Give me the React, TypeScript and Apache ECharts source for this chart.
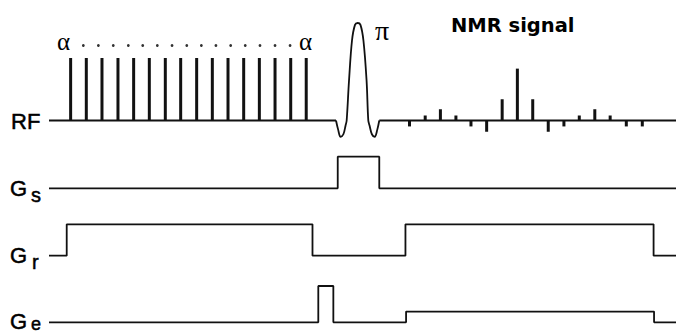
import React, { useEffect, useRef } from "react";
import * as echarts from "echarts";

// Time axis (arbitrary units, one unit ≈ one RF repetition)
const TIME_END = 40;

// Train of alpha pulses on the RF channel
const alphaTimes = [1.38, 2.38, 3.38, 4.4, 5.4, 6.4, 7.42, 8.4, 9.42, 10.42, 11.42, 12.42, 13.42, 14.42, 15.42, 16.41];
const alphaAmps = [10, 10, 10, 10, 10, 10, 10, 10, 10, 10, 10, 10, 10, 10, 10, 10];

// Dots between the two alpha labels
const dotTimes = [2.19, 3.15, 4.1, 5.06, 5.98, 6.91, 7.85, 8.79, 9.72, 10.65, 11.59, 12.52, 13.46, 14.42, 15.38];
const dotLevel = 12.0;

// Refocusing (pi) pulse shape
const piTimes = [18.31, 18.45, 18.6, 18.78, 18.92, 18.99, 19.14, 19.33, 19.52, 19.69, 19.87, 20.06, 20.26, 20.37, 20.45, 20.6, 20.78, 20.94, 21.07];
const piAmps = [0, -1.5, -2.6, -2.2, -0.8, 0, 6.4, 12.8, 15.3, 15.6, 15.3, 12.8, 6.4, 0, -0.8, -2.2, -2.6, -1.5, 0];

// NMR signal spikes
const echoTimes = [23.0, 24.0, 24.97, 25.96, 26.92, 27.92, 28.91, 29.88, 30.86, 31.85, 32.85, 33.83, 34.82, 35.8, 36.83, 37.85];
const echoAmps = [-0.95, 0.8, 1.8, 0.8, -0.95, -1.8, 3.4, 8.3, 3.4, -1.8, -0.95, 0.8, 1.8, 0.8, -0.95, -0.95];

// Gradient channels: level holds from each time onwards
const gsTimes = [0, 18.42, 21.07];
const gsLevels = [0, 1, 0];
const grTimes = [0, 1.13, 16.81, 22.74, 38.57];
const grLevels = [0, 1, 0, 1, 0];
const geTimes = [0, 17.18, 18.14, 22.78, 38.6];
const geLevels = [0, 1.15, 0, 0.34, 0];

function stepPoints(times: number[], levels: number[], end: number) {
  const pts: number[][] = [];
  for (let i = 0; i < times.length; i++) {
    if (i > 0) pts.push([times[i], levels[i - 1]]);
    pts.push([times[i], levels[i]]);
  }
  pts.push([end, levels[levels.length - 1]]);
  return pts;
}

const LINE = "#111";
const SANS = "Liberation Sans";
const SERIF = "Liberation Serif";

export default function App() {
  const ref = useRef<HTMLDivElement>(null);
  useEffect(() => {
    document.body.style.margin = "0";
    if (!ref.current) return;
    const chart = echarts.init(ref.current, undefined, { renderer: "svg" });
    const gridBase = { left: 49, right: 0 };
    const grids = [
      { ...gridBase, top: 20.5, height: 118.75 },
      { ...gridBase, top: 156.7, height: 31.6 },
      { ...gridBase, top: 224.3, height: 31.4 },
      { ...gridBase, top: 286, height: 36.3 },
    ];
    const xAxes = grids.map((_, i) => ({ type: "value", gridIndex: i, min: 0, max: TIME_END, show: false }));
    const yAxes = [
      { type: "value", gridIndex: 0, min: -3, max: 16, show: false },
      { type: "value", gridIndex: 1, min: 0, max: 1, show: false },
      { type: "value", gridIndex: 2, min: 0, max: 1, show: false },
      { type: "value", gridIndex: 3, min: 0, max: 1.15, show: false },
    ];
    const lineBase = { type: "line", symbol: "none", silent: true, clip: false, lineStyle: { color: LINE, width: 1.8 } };
    const label = (text: string, x: number, y: number, family: string, size: number, weight = "normal", stroke = 0) => ({
      type: "text",
      x,
      y,
      style: {
        text,
        fontFamily: family,
        fontSize: size,
        fontWeight: weight,
        fill: "#000",
        stroke: stroke > 0 ? "#000" : undefined,
        lineWidth: stroke,
        verticalAlign: "middle",
        align: "left",
      },
    });
    chart.setOption({
      animation: false,
      backgroundColor: "#fff",
      grid: grids,
      xAxis: xAxes,
      yAxis: yAxes,
      series: [
        {
          ...lineBase,
          xAxisIndex: 0,
          yAxisIndex: 0,
          data: [[0, 0], [piTimes[0], 0], null, [piTimes[piTimes.length - 1], 0], [TIME_END, 0]],
          connectNulls: false,
        },
        {
          ...lineBase,
          xAxisIndex: 0,
          yAxisIndex: 0,
          smooth: 0.35,
          data: piTimes.map((t, i) => [t, piAmps[i]]),
        },
        {
          type: "bar",
          xAxisIndex: 0,
          yAxisIndex: 0,
          barWidth: 3,
          silent: true,
          itemStyle: { color: LINE },
          data: alphaTimes.map((t, i) => [t, alphaAmps[i]]),
        },
        {
          type: "bar",
          xAxisIndex: 0,
          yAxisIndex: 0,
          barWidth: 3,
          silent: true,
          barGap: "-100%",
          itemStyle: { color: LINE },
          data: echoTimes.map((t, i) => [t, echoAmps[i]]),
        },
        {
          type: "scatter",
          xAxisIndex: 0,
          yAxisIndex: 0,
          symbol: "circle",
          symbolSize: 2.8,
          silent: true,
          itemStyle: { color: "#000" },
          data: dotTimes.map((t) => [t, dotLevel]),
        },
        { ...lineBase, xAxisIndex: 1, yAxisIndex: 1, data: stepPoints(gsTimes, gsLevels, TIME_END) },
        { ...lineBase, xAxisIndex: 2, yAxisIndex: 2, data: stepPoints(grTimes, grLevels, TIME_END) },
        { ...lineBase, xAxisIndex: 3, yAxisIndex: 3, data: stepPoints(geTimes, geLevels, TIME_END) },
      ],
      graphic: [
        label("RF", 11, 121, SANS, 22, "normal", 0.5),
        label("G", 10, 188, SANS, 22, "normal", 0.5),
        label("s", 31, 195, SANS, 20, "normal", 0.5),
        label("G", 10, 255, SANS, 22, "normal", 0.5),
        label("r", 32, 262, SANS, 20, "normal", 0.5),
        label("G", 10, 321, SANS, 22, "normal", 0.5),
        label("e", 31, 324, SANS, 18, "normal", 0.5),
        label("α", 57, 41, SERIF, 25),
        label("α", 299, 41, SERIF, 25),
        label("π", 375, 30, SERIF, 28),
        label("NMR signal", 451, 25, "DejaVu Sans", 19.5, "bold"),
      ],
    });
    return () => chart.dispose();
  }, []);
  return <div ref={ref} style={{ width: 676, height: 334 }} />;
}
